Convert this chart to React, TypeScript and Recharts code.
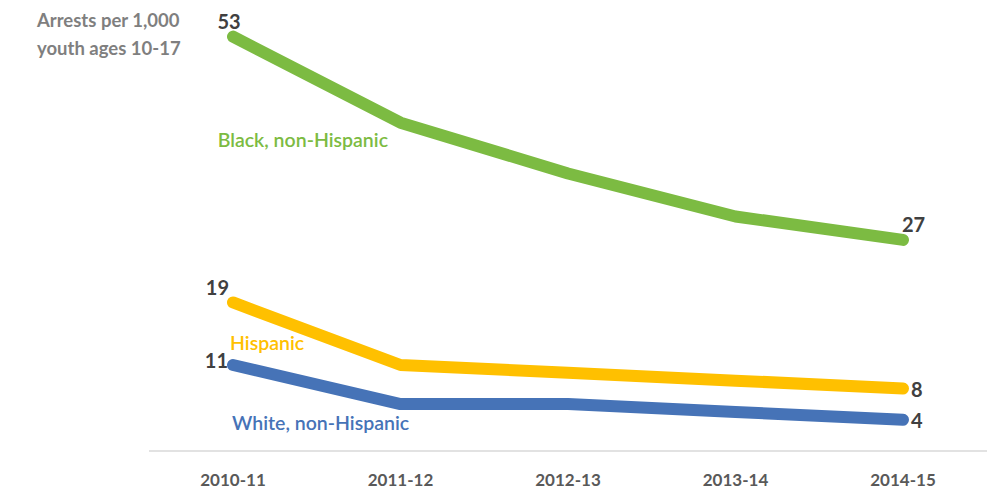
import React from 'react';
import { LineChart, Line, XAxis, YAxis, LabelList } from 'recharts';

const years = ['2010-11', '2011-12', '2012-13', '2013-14', '2014-15'];
const black = [53, 42, 35.5, 30, 27];
const hispanic = [19, 11, 10, 9, 8];
const white = [11, 6, 6, 5, 4];

const seriesMeta = [
  { key: 'black', name: 'Black, non-Hispanic', color: '#7cbb42' },
  { key: 'hispanic', name: 'Hispanic', color: '#ffc000' },
  { key: 'white', name: 'White, non-Hispanic', color: '#4673b7' },
];

const data = years.map((year, i) => ({
  year,
  black: black[i],
  hispanic: hispanic[i],
  white: white[i],
}));

const FONT = 'Lato, "Open Sans", sans-serif';
const lastIndex = years.length - 1;

// label placement per series, relative to the plotted point
const labelPos: Record<string, { first: [number, number, 'start' | 'middle' | 'end']; last: [number, number]; name: [number, number, 'start' | 'end'] }> = {
  black: { first: [-4, -16, 'middle'], last: [-1, -16], name: [155, 103, 'end'] },
  hispanic: { first: [-4, -15, 'end'], last: [8, 1], name: [-3, 40, 'start'] },
  white: { first: [-5, -5, 'end'], last: [8, 0], name: [-1, 57, 'start'] },
};

function makeLabel(key: string, name: string, color: string) {
  return (props: any) => {
    const { x, y, value, index } = props;
    const pos = labelPos[key];
    if (index === 0) {
      return (
        <g>
          <text
            x={x + pos.first[0]}
            y={y + pos.first[1]}
            textAnchor={pos.first[2]}
            dominantBaseline="central"
            fontFamily={FONT}
            fontWeight={700}
            fontSize={20}
            fill="#404040"
          >
            {value}
          </text>
          <text
            x={x + pos.name[0]}
            y={y + pos.name[1]}
            textAnchor={pos.name[2]}
            dominantBaseline="central"
            fontFamily={FONT}
            fontWeight={600}
            fontSize={19.5}
            fill={color}
          >
            {name}
          </text>
        </g>
      );
    }
    if (index === lastIndex) {
      return (
        <text
          x={x + pos.last[0]}
          y={y + pos.last[1]}
          textAnchor="start"
          dominantBaseline="central"
          fontFamily={FONT}
          fontWeight={700}
          fontSize={20}
          fill="#404040"
        >
          {value}
        </text>
      );
    }
    return null;
  };
}

export default function App() {
  return (
    <div style={{ position: 'absolute', left: 0, top: 0, width: 1006, height: 494, background: '#fff' }}>
      <LineChart
        width={1006}
        height={494}
        data={data}
        margin={{ top: 21, right: 19, left: 149, bottom: 13 }}
      >
        <XAxis
          dataKey="year"
          height={30}
          padding={{ left: 84, right: 84 }}
          axisLine={{ stroke: '#d9d9d9', strokeWidth: 1.5 }}
          tickLine={false}
          tickSize={0}
          tickMargin={23}
          tick={{ fontFamily: FONT, fontWeight: 700, fontSize: 17, fill: '#595959' }}
          interval={0}
        />
        <YAxis hide domain={[0, 55]} />
        {seriesMeta.map((s) => (
          <Line
            key={s.key}
            type="linear"
            dataKey={s.key}
            stroke={s.color}
            strokeWidth={12}
            strokeLinecap="round"
            strokeLinejoin="round"
            dot={false}
            activeDot={false}
            isAnimationActive={false}
          >
            <LabelList dataKey={s.key} content={makeLabel(s.key, s.name, s.color)} />
          </Line>
        ))}
        <text x={37} y={20} dominantBaseline="central" fontFamily={FONT} fontWeight={700} fontSize={18.5} fill="#7f7f7f">
          Arrests per 1,000
        </text>
        <text x={37} y={48} dominantBaseline="central" fontFamily={FONT} fontWeight={700} fontSize={18.5} fill="#7f7f7f">
          youth ages 10-17
        </text>
      </LineChart>
    </div>
  );
}
